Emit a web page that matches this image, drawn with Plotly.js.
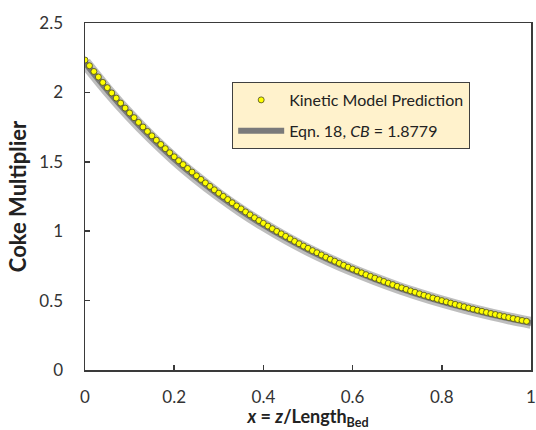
<!DOCTYPE html>
<html>
<head>
<meta charset="utf-8">
<script src="https://cdn.plot.ly/plotly-3.0.1.min.js"></script>
<style>html,body{margin:0;padding:0;background:#fff;}#chart{width:536px;height:430px;}</style>
</head>
<body>
<div id="chart"></div>
<script>
// Kinetic model prediction (yellow dots)
var xModel = [0.00,0.01,0.02,0.03,0.04,0.05,0.06,0.07,0.08,0.09,
  0.10,0.11,0.12,0.13,0.14,0.15,0.16,0.17,0.18,0.19,
  0.20,0.21,0.22,0.23,0.24,0.25,0.26,0.27,0.28,0.29,
  0.30,0.31,0.32,0.33,0.34,0.35,0.36,0.37,0.38,0.39,
  0.40,0.41,0.42,0.43,0.44,0.45,0.46,0.47,0.48,0.49,
  0.50,0.51,0.52,0.53,0.54,0.55,0.56,0.57,0.58,0.59,
  0.60,0.61,0.62,0.63,0.64,0.65,0.66,0.67,0.68,0.69,
  0.70,0.71,0.72,0.73,0.74,0.75,0.76,0.77,0.78,0.79,
  0.80,0.81,0.82,0.83,0.84,0.85,0.86,0.87,0.88,0.89,
  0.90,0.91,0.92,0.93,0.94,0.95,0.96,0.97,0.98,0.99];
var yModel = [2.233,2.192,2.151,2.111,2.072,2.034,1.996,1.959,1.923,1.887,
  1.852,1.818,1.784,1.751,1.719,1.687,1.656,1.625,1.595,1.565,
  1.536,1.508,1.480,1.452,1.426,1.399,1.373,1.348,1.323,1.298,
  1.274,1.251,1.228,1.205,1.182,1.161,1.139,1.118,1.097,1.077,
  1.057,1.037,1.018,0.999,0.981,0.963,0.945,0.927,0.910,0.893,
  0.877,0.860,0.845,0.829,0.813,0.798,0.784,0.769,0.755,0.741,
  0.727,0.714,0.700,0.687,0.675,0.662,0.650,0.638,0.626,0.615,
  0.603,0.592,0.581,0.570,0.560,0.549,0.539,0.529,0.519,0.510,
  0.500,0.491,0.482,0.473,0.464,0.456,0.447,0.439,0.431,0.423,
  0.415,0.407,0.400,0.392,0.385,0.378,0.371,0.364,0.357,0.351];

// Eqn. 18 fit (grey line)
var xFit = [0.00,0.05,0.10,0.15,0.20,0.25,0.30,0.35,0.40,0.45,0.50,
  0.55,0.60,0.65,0.70,0.75,0.80,0.85,0.90,0.95,1.00];
var yFit = [2.215,2.017,1.836,1.671,1.521,1.385,1.261,1.148,1.045,0.951,0.866,
  0.789,0.718,0.654,0.595,0.542,0.493,0.449,0.409,0.372,0.339];

var xTicks = [0, 0.2, 0.4, 0.6, 0.8, 1];
var xTickText = ['0', '0.2', '0.4', '0.6', '0.8', '1'];
var yTicks = [0, 0.5, 1, 1.5, 2, 2.5];
var yTickText = ['0', '0.5', '1', '1.5', '2', '2.5'];

var FONT = 'Lato, "Open Sans", sans-serif';

var traces = [
  {
    // soft shadow of the fitted line
    x: xFit, y: yFit, type: 'scatter', mode: 'lines',
    name: 'Eqn. 18 shadow', showlegend: false, hoverinfo: 'skip',
    line: {color: 'rgba(110,110,110,0.45)', width: 12, shape: 'spline'},
    legendgroup: 'b'
  },
  {
    x: xFit, y: yFit, type: 'scatter', mode: 'lines',
    name: 'Eqn. 18, <i>CB</i> = 1.8779',
    line: {color: '#7a7a7a', width: 6, shape: 'spline'},
    legendrank: 2, legendgroup: 'b'
  },
  {
    x: xModel, y: yModel, type: 'scatter', mode: 'markers',
    name: 'Kinetic Model Prediction',
    marker: {color: '#ffff00', size: 6, line: {color: '#4a4a20', width: 0.8}},
    legendrank: 1, legendgroup: 'a'
  }
];

var axisCommon = {
  showline: true, mirror: true, linecolor: '#3a3a3a', linewidth: 1.5,
  ticks: 'inside', ticklen: 5, tickwidth: 1.5, tickcolor: '#3a3a3a',
  showgrid: false, zeroline: false,
  tickfont: {family: FONT, size: 17, color: '#333333'}
};

var layout = {
  width: 536, height: 430,
  margin: {l: 85, r: 5, t: 23, b: 60},
  paper_bgcolor: '#ffffff', plot_bgcolor: '#ffffff',
  showlegend: true,
  legend: {
    x: 0.33, y: 0.83, xanchor: 'left', yanchor: 'top',
    bgcolor: '#fff2cc', bordercolor: '#404040', borderwidth: 1,
    font: {family: FONT, size: 16, color: '#222222'},
    traceorder: 'grouped', tracegroupgap: 7, itemwidth: 46
  },
  xaxis: Object.assign({}, axisCommon, {
    range: [0, 1], tickvals: xTicks, ticktext: xTickText,
    ticklabelstandoff: 11,
    title: {text: '<b><i>x</i> = <i>z</i>/Length<sub>Bed</sub></b>', font: {family: FONT, size: 18, color: '#222222'}, standoff: 14}
  }),
  yaxis: Object.assign({}, axisCommon, {
    range: [0, 2.5], tickvals: yTicks, ticktext: yTickText,
    ticklabelstandoff: 17,
    title: {text: '<b>Coke Multiplier</b>', font: {family: FONT, size: 22, color: '#222222'}, standoff: 6}
  })
};

Plotly.newPlot('chart', traces, layout, {displayModeBar: false, staticPlot: true});
</script>
</body>
</html>
